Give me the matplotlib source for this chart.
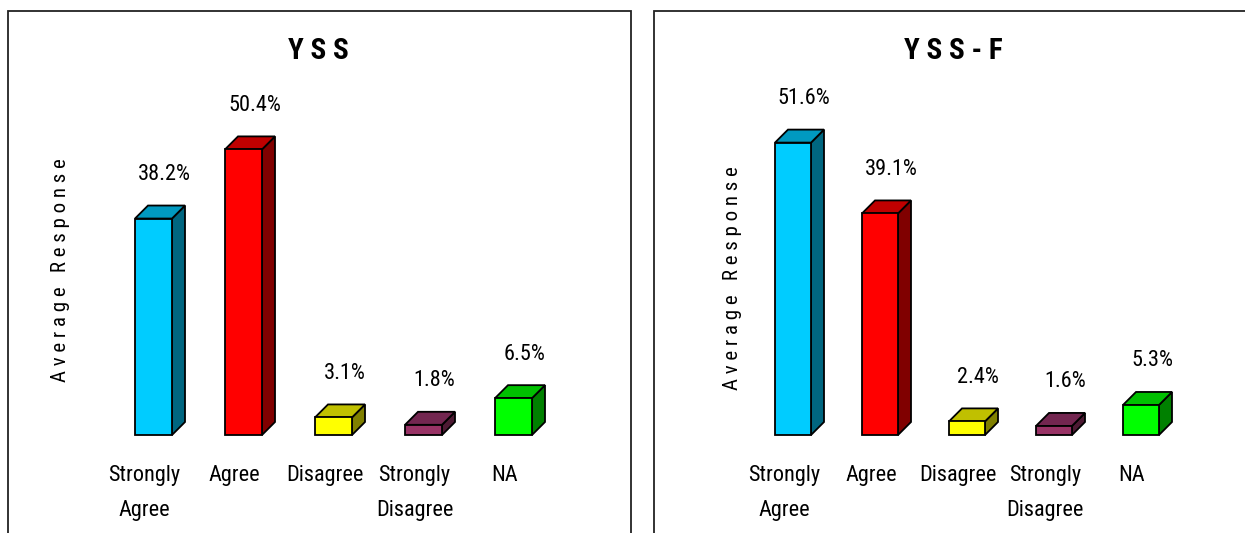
#!/usr/bin/env python3
"""
Two side-by-side 3D-style bar charts of survey responses (YSS and YSS-F).
"""

import matplotlib
matplotlib.use("Agg")
import matplotlib.pyplot as plt
from matplotlib.patches import Polygon, Rectangle

categories = ["Strongly\nAgree", "Agree", "Disagree", "Strongly\nDisagree", "NA"]
yss_values = [38.2, 50.4, 3.1, 1.8, 6.5]
yssf_values = [51.6, 39.1, 2.4, 1.6, 5.3]
titles = ["Y S S", "Y S S - F"]

front_colors = ["#00CCFF", "#FF0000", "#FFFF00", "#993366", "#00FF00"]
top_colors = ["#0099C0", "#C00000", "#C0C000", "#732650", "#00C000"]
side_colors = ["#006680", "#800000", "#808000", "#4D1A33", "#008000"]

W, H, DPI = 1245, 533, 100

# Arial Narrow look-alike
plt.rcParams["font.family"] = ["Roboto Condensed", "DejaVu Sans"]


def px_rect(left, bottom_from_top, width, height):
    """Figure-fraction rectangle from pixel geometry (y measured from top)."""
    return [left / W, (H - bottom_from_top) / H, width / W, height / H]


def draw_bars(ax, values, bar_w, unit_px, depth_px=13):
    ymax = 60
    ax.set_xlim(-0.5, len(values) - 0.5)
    ax.set_ylim(0, ymax)
    ax.axis("off")
    # depth of the faux 3D box in data units
    dx = depth_px / unit_px
    dy = depth_px / (340 / ymax)
    for i, v in enumerate(values):
        x0, x1 = i - bar_w / 2, i + bar_w / 2
        ax.add_patch(Polygon([(x1, 0), (x1 + dx, dy), (x1 + dx, v + dy), (x1, v)],
                             closed=True, facecolor=side_colors[i], edgecolor="black",
                             lw=1.3, zorder=2, clip_on=False))
        ax.add_patch(Polygon([(x0, v), (x1, v), (x1 + dx, v + dy), (x0 + dx, v + dy)],
                             closed=True, facecolor=top_colors[i], edgecolor="black",
                             lw=1.3, zorder=2, clip_on=False))
        ax.bar(i, v, width=bar_w, color=front_colors[i], edgecolor="black",
               lw=1.3, zorder=3, clip_on=False)
        ax.annotate(f"{v:.1f}%", (i, v), xytext=(11, 44), textcoords="offset pixels",
                    ha="center", va="center", fontsize=16, annotation_clip=False)
        ax.annotate(categories[i], (i, 0), xytext=(-9, -30), textcoords="offset pixels",
                    ha="center", va="top", fontsize=16, linespacing=1.85,
                    annotation_clip=False)


fig = plt.figure(figsize=(W / DPI, H / DPI), dpi=DPI)

# panel frames
fig.add_artist(Rectangle((8 / W, -0.05), 623 / W, 1.05 - 11 / H, transform=fig.transFigure,
                         fill=False, edgecolor="#222222", lw=1.3))
fig.add_artist(Rectangle((654 / W, -0.05), 700 / W, 1.05 - 11 / H, transform=fig.transFigure,
                         fill=False, edgecolor="#222222", lw=1.3))

ax1 = fig.add_axes(px_rect(108.5, 435, 450, 340))
draw_bars(ax1, yss_values, 37 / 90, 90)
ax2 = fig.add_axes(px_rect(749.5, 435, 435, 340))
draw_bars(ax2, yssf_values, 36 / 87, 87)

for cx, t in zip([318, 953], titles):
    fig.text(cx / W, 1 - 51 / H, t, ha="center", va="center", fontsize=21,
             fontweight="bold")

for cx, cy in [(60, 270), (733, 278)]:
    fig.text(cx / W, 1 - cy / H, "A v e r a g e   R e s p o n s e", ha="center",
             va="center", rotation=90, fontsize=15)

fig.savefig("out.png", dpi=DPI)
